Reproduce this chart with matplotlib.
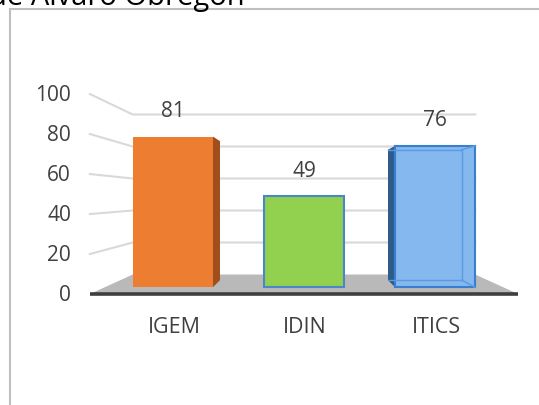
import matplotlib
matplotlib.use("Agg")
import matplotlib.pyplot as plt
from matplotlib.lines import Line2D

plt.rcParams['font.family'] = ['Open Sans', 'DejaVu Sans']

# data
categories = ['IGEM', 'IDIN', 'ITICS']
values = [81, 49, 76]
tick_values = [0, 20, 40, 60, 80, 100]
title_text = 'de Álvaro Obregón'

# pseudo 3D geometry (depth 0 = front, 1 = back wall)
BAR_DEPTH = 0.35
BAR_BACK = 0.71
SHRINK = 0.2
VP_X, VP_Y = 1.0, 48.8
FLOOR_L, FLOOR_R = -0.52, 2.52
HALF_W = 0.305
TEXT_COL = '#404040'


def proj(x, v, d):
    r = (1 - SHRINK * d) / (1 - SHRINK * BAR_DEPTH)
    return VP_X + r * (x - VP_X), VP_Y + r * (v - VP_Y)


fig = plt.figure(figsize=(5.39, 4.06), dpi=100)
ax = fig.add_axes([0, 0, 1, 1])
ax.set_xlim(-173 / 131, (539 - 173) / 131)
ax.set_ylim((288.2 - 406) / 1.86, 288.2 / 1.86)
ax.axis('off')

# floor
pts = [proj(FLOOR_L, 0, 0), proj(FLOOR_R, 0, 0), proj(FLOOR_R, 0, 1), proj(FLOOR_L, 0, 1)]
ax.fill([p[0] for p in pts], [p[1] for p in pts], color='#b9b9b9', zorder=1, lw=0)

# gridlines: left wall + back wall
for t in tick_values[1:]:
    a = proj(FLOOR_L, t, 0)
    b = proj(FLOOR_L, t, 1)
    c = proj(FLOOR_R, t, 1)
    ax.plot([a[0], b[0], c[0]], [a[1], b[1], c[1]], color='#d9d9d9', lw=1.5, zorder=2,
            solid_joinstyle='miter')

# front edge of floor
a = proj(FLOOR_L, 0, 0)
b = proj(FLOOR_R, 0, 0)
ax.plot([a[0], b[0]], [a[1], b[1]], color='#3f3f3f', lw=2.6, zorder=6, solid_capstyle='butt')

face_cols = ['#ED7D31', '#92D050', '#84b8ee']
side_cols = ['#a04f1c', '#6f9e3a', '#2f5b8a']
edge_cols = ['none', '#4a86c8', '#3a7fcf']

# bars
for i, (cat, v) in enumerate(zip(categories, values)):
    xl, xr = i - HALF_W, i + HALF_W
    for xe, show in ((xr, xr < VP_X), (xl, xl > VP_X)):
        if show:
            b0 = proj(xe, 0, BAR_BACK)
            b1 = proj(xe, v, BAR_BACK)
            ax.fill([xe, xe, b1[0], b0[0]], [0, v, b1[1], b0[1]],
                    color=side_cols[i], zorder=3, lw=0)
    ax.bar(i, v, width=2 * HALF_W, color=face_cols[i], edgecolor=edge_cols[i],
           lw=1.5 if edge_cols[i] != 'none' else 0, zorder=4)
    if cat == 'ITICS':
        # see-through back edges
        bl0 = proj(xl, 0, BAR_BACK)
        br0 = proj(xr, 0, BAR_BACK)
        br1 = proj(xr, v, BAR_BACK)
        bl1 = proj(xl, v, BAR_BACK)
        ax.plot([bl0[0], br0[0], br1[0], bl1[0]], [bl0[1], br0[1], br1[1], bl1[1]],
                color='#5a9be0', lw=1, zorder=5)
        ax.plot([xr, br0[0]], [0, br0[1]], color='#5a9be0', lw=1, zorder=5)
        ax.plot([xr, br1[0]], [v, br1[1]], color='#5a9be0', lw=1, zorder=5)
    # value label
    ax.annotate(str(v), (i, v), xytext=(0, 26), textcoords='offset pixels',
                ha='center', va='center', fontsize=15, color=TEXT_COL, zorder=7)
    # category label
    c = proj(i, 0, 0)
    ax.annotate(cat, (i, c[1]), xytext=(1, -32), textcoords='offset pixels',
                ha='center', va='center', fontsize=15.5, color=TEXT_COL, zorder=7)

# value axis labels
for t in tick_values:
    p = proj(FLOOR_L, t, 0)
    ax.annotate(str(t), p, xytext=(-19, 0), textcoords='offset pixels',
                ha='right', va='center', fontsize=15, color=TEXT_COL)

# chart border (cropped)
fig.add_artist(Line2D([10 / 539, 10 / 539], [0, 1 - 10 / 406], color='#bfbfbf', lw=1.5))
fig.add_artist(Line2D([10 / 539, 1], [1 - 10 / 406, 1 - 10 / 406], color='#bfbfbf', lw=1.5))

fig.text(245 / 539, 1 - 5 / 406, title_text, ha='right', va='baseline',
         fontsize=21, color='#000000')

fig.savefig('out.png', dpi=100)
